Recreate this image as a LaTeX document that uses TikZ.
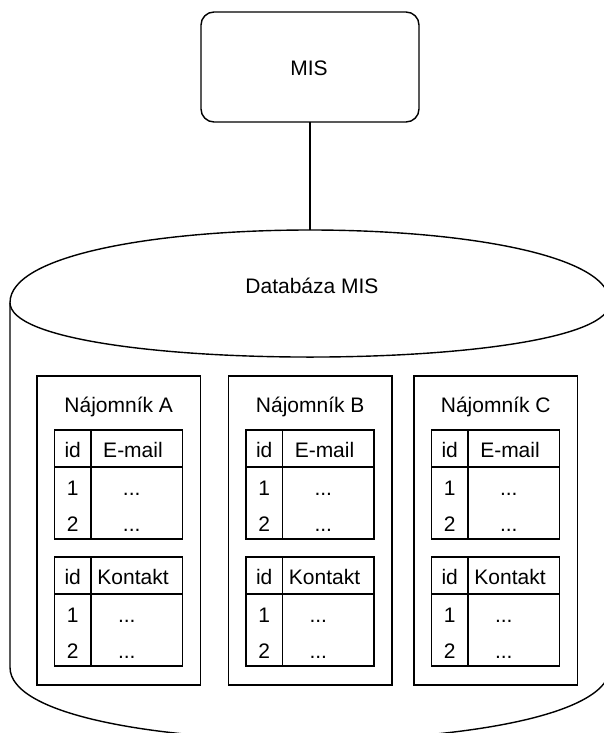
\documentclass[tikz,border=0pt]{standalone}
\usepackage{fontspec}
\setmainfont{Liberation Sans}

\tikzset{
  every picture/.style={x=1pt,y=-1pt},
  stroke/.style={draw=black, line width=1.4pt},
  txt/.style={font=\fontsize{21}{25}\selectfont, anchor=base, inner sep=0pt},
  cell/.style={stroke, anchor=north west, inner sep=0pt, outer sep=0pt},
  misbox/.style={stroke, rounded corners=13pt, minimum width=218pt,
                 minimum height=110pt, inner sep=0pt, outer sep=0pt},
}

% one two-column table: #1 name, #2 top y, #3 header, #4 shift of the "..." column
\newcommand\celltable[4]{%
  \node[cell, minimum width=36.5pt, minimum height=37pt] (#1-idh)  at (17.5,#2) {};
  \node[cell, minimum width=91.5pt, minimum height=37pt] (#1-valh) at (54,#2) {};
  \node[cell, minimum width=36.5pt, minimum height=72pt] (#1-idb)  at (17.5,{#2+37}) {};
  \node[cell, minimum width=91.5pt, minimum height=72pt] (#1-valb) at (54,{#2+37}) {};
  \node[txt] (#1-idt)  at (35.75,{#2+27}) {id};
  \node[txt] (#1-valt) at (96,{#2+27}) {#3};
  \node[txt] (#1-r1)   at (35.75,{#2+65}) {1};
  \node[txt] (#1-r2)   at (35.75,{#2+101}) {2};
  \node[txt] (#1-d1)   at ({99.75+#4},{#2+65}) {...};
  \node[txt] (#1-d2)   at ({99.75+#4},{#2+101}) {...};
}

% one tenant: #1 letter, #2 left x
\newcommand\tenantbox[2]{%
  \begin{scope}[shift={(#2,0)}]
    \node[cell, minimum width=163.5pt, minimum height=309pt] (ten#1) at (0,376) {};
    \node[txt] (ten#1-name) at (81.75,412) {Nájomník #1};
    \celltable{ten#1-mail}{430}{E-mail}{-5}
    \celltable{ten#1-kont}{557}{Kontakt}{-10}
  \end{scope}
}

\begin{document}
\begin{tikzpicture}
  \useasboundingbox (0,0) rectangle (603,733);

  % database cylinder (left 10, right 610, top 230, bottom 740)
  \path[stroke, fill=white]
    (10,302.6) .. controls (10,205.8) and (610,205.8) .. (610,302.6)
    -- (610,667.4) .. controls (610,764.2) and (10,764.2) .. (10,667.4)
    -- cycle;
  \draw[stroke] (10,302.6) .. controls (10,375.2) and (610,375.2) .. (610,302.6);
  \coordinate (dbtop) at (310,230);
  \node[txt] (db) at (312,293) {Databáza MIS};

  % application box and its link to the database
  \node[misbox] (mis) at (310,67) {};
  \node[txt] (mislabel) at (309,75.5) {MIS};
  \draw[stroke] (mis.south) -- (dbtop);

  % tenants
  \tenantbox{A}{37}
  \tenantbox{B}{228.5}
  \tenantbox{C}{414}
\end{tikzpicture}
\end{document}
